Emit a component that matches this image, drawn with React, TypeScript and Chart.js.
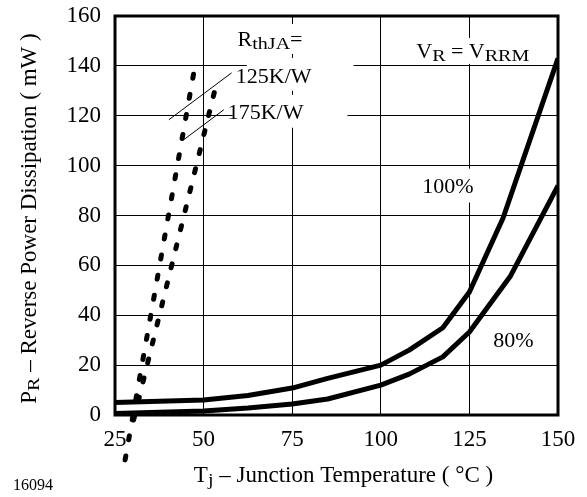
import React, { useEffect, useRef } from "react";
import { Chart, registerables } from "chart.js";

Chart.register(...registerables);

// ---- data ----
const xTickValues = [25, 50, 75, 100, 125, 150];
const yTickValues = [0, 20, 40, 60, 80, 100, 120, 140, 160];

const temps100 = [25, 50, 62.5, 75, 85, 100, 108, 117.5, 125, 134.5, 150];
const power100 = [5, 6, 7.8, 10.8, 14.7, 20, 26, 35, 49.3, 79, 143];

const temps80 = [25, 50, 62.5, 75, 85, 100, 108, 117.5, 125, 136.5, 150];
const power80 = [0.6, 1.6, 2.8, 4.4, 6.4, 12, 16.4, 23.3, 33.3, 55.5, 92];

const tempsR125 = [27.85, 47.2];
const powerR125 = [-18, 137];
const tempsR175 = [30.25, 54.0];
const powerR175 = [-2, 135];

// leader lines [T1, P1, T2, P2]
const leader125 = [40.2, 118.4, 57.9, 137.2];
const leader175 = [44.4, 110.4, 55.7, 122.4];

// white label masks [T1, T2, P1, P2]
const maskBoxes = [
  [58.0, 79.1, 156.8, 144.8],
  [62.2, 92.3, 143.2, 130.0],
  [58.2, 90.6, 128.4, 115.2],
  [108.3, 146.3, 151.2, 140.8],
  [109.7, 128.0, 98.8, 85.2],
];

type Seg = { t: string; sub?: boolean };
// annotation labels: [T, P, segments]
const annoLabels: [number, number, Seg[]][] = [
  [59.6, 148, [{ t: "R" }, { t: "thJA", sub: true }, { t: "=" }]],
  [59.1, 133.2, [{ t: "125K/W" }]],
  [56.8, 118.8, [{ t: "175K/W" }]],
  [110, 143.2, [{ t: "V" }, { t: "R", sub: true }, { t: " = V" }, { t: "RRM", sub: true }]],
  [111.7, 89.2, [{ t: "100%" }]],
  [131.7, 27.2, [{ t: "80%" }]],
];

const xTitle: Seg[] = [{ t: "T" }, { t: "j", sub: true }, { t: " \u2013 Junction Temperature ( \u00B0C )" }];
const yTitle: Seg[] = [{ t: "P" }, { t: "R", sub: true }, { t: " \u2013 Reverse Power Dissipation ( mW )" }];
const figureId = "16094";

const FAM = '"Liberation Serif", "Times New Roman", serif';
const LABEL = 22;
const AXIS = 23;
const SUB = 16;
const SUB_STRETCH = 1.25;
const SUB_DROP = 3;

function richWidth(ctx: CanvasRenderingContext2D, segs: Seg[], size: number) {
  let w = 0;
  for (const s of segs) {
    ctx.font = `${s.sub ? SUB : size}px ${FAM}`;
    w += ctx.measureText(s.t).width * (s.sub ? SUB_STRETCH : 1);
  }
  return w;
}
function drawRich(ctx: CanvasRenderingContext2D, segs: Seg[], x: number, y: number, size: number) {
  let cx = x;
  ctx.textAlign = "left";
  ctx.textBaseline = "alphabetic";
  for (const s of segs) {
    ctx.font = `${s.sub ? SUB : size}px ${FAM}`;
    const w = ctx.measureText(s.t).width;
    if (s.sub) {
      ctx.save();
      ctx.translate(cx, y + SUB_DROP);
      ctx.scale(SUB_STRETCH, 1);
      ctx.fillText(s.t, 0, 0);
      ctx.restore();
      cx += w * SUB_STRETCH;
    } else {
      ctx.fillText(s.t, cx, y);
      cx += w;
    }
  }
}

const annotPlugin = {
  id: "annot",
  afterDatasetsDraw(chart: any) {
    const { ctx, chartArea } = chart;
    const xs = chart.scales.x;
    const ys = chart.scales.y;
    ctx.save();
    // masks behind labels
    ctx.fillStyle = "#fff";
    for (const b of maskBoxes) {
      const x1 = xs.getPixelForValue(b[0]);
      const x2 = xs.getPixelForValue(b[1]);
      const y1 = ys.getPixelForValue(b[2]);
      const y2 = ys.getPixelForValue(b[3]);
      ctx.fillRect(Math.min(x1, x2), Math.min(y1, y2), Math.abs(x2 - x1), Math.abs(y2 - y1));
    }
    // frame
    ctx.strokeStyle = "#000";
    ctx.lineWidth = 3;
    ctx.strokeRect(chartArea.left, chartArea.top, chartArea.right - chartArea.left, chartArea.bottom - chartArea.top);
    // leaders
    ctx.lineWidth = 1;
    for (const l of [leader125, leader175]) {
      ctx.beginPath();
      ctx.moveTo(xs.getPixelForValue(l[0]), ys.getPixelForValue(l[1]));
      ctx.lineTo(xs.getPixelForValue(l[2]), ys.getPixelForValue(l[3]));
      ctx.stroke();
    }
    // labels
    ctx.fillStyle = "#000";
    for (const [t, p, segs] of annoLabels) {
      drawRich(ctx, segs, xs.getPixelForValue(t), ys.getPixelForValue(p), LABEL);
    }
    // x title
    const wx = richWidth(ctx, xTitle, AXIS);
    const cx = (chartArea.left + chartArea.right) / 2 + 7;
    drawRich(ctx, xTitle, cx - wx / 2, chartArea.bottom + 67, AXIS);
    // y title
    const wy = richWidth(ctx, yTitle, AXIS);
    ctx.save();
    ctx.translate(36, (chartArea.top + chartArea.bottom) / 2 + 3);
    ctx.rotate(-Math.PI / 2);
    drawRich(ctx, yTitle, -wy / 2, 0, AXIS);
    ctx.restore();
    // figure id
    ctx.font = `16px ${FAM}`;
    ctx.textAlign = "left";
    ctx.textBaseline = "alphabetic";
    ctx.fillText(figureId, 13, 490);
    ctx.restore();
  },
};

export default function App() {
  const ref = useRef<HTMLCanvasElement | null>(null);
  useEffect(() => {
    if (!ref.current) return;
    const toPts = (xs: number[], ys: number[]) => xs.map((v, i) => ({ x: v, y: ys[i] }));
    const chart = new Chart(ref.current, {
      type: "line",
      data: {
        datasets: [
          {
            label: "100%",
            data: toPts(temps100, power100),
            borderColor: "#000",
            borderWidth: 5,
            pointRadius: 0,
            tension: 0,
            borderJoinStyle: "round",
            fill: false,
          },
          {
            label: "80%",
            data: toPts(temps80, power80),
            borderColor: "#000",
            borderWidth: 5,
            pointRadius: 0,
            tension: 0,
            borderJoinStyle: "round",
            fill: false,
          },
          {
            label: "125K/W",
            data: toPts(tempsR125, powerR125),
            borderColor: "#000",
            borderWidth: 5,
            borderDash: [4, 16.4],
            borderCapStyle: "round",
            pointRadius: 0,
            clip: false,
            fill: false,
          },
          {
            label: "175K/W",
            data: toPts(tempsR175, powerR175),
            borderColor: "#000",
            borderWidth: 5,
            borderDash: [4, 15.6],
            borderCapStyle: "round",
            pointRadius: 0,
            clip: false,
            fill: false,
          },
        ],
      },
      options: {
        responsive: false,
        animation: false,
        events: [],
        layout: { padding: { top: 16, right: 29, left: 0, bottom: 0 } },
        plugins: { legend: { display: false }, tooltip: { enabled: false }, title: { display: false } },
        scales: {
          x: {
            type: "linear",
            min: 25,
            max: 150,
            afterBuildTicks: (s: any) => {
              s.ticks = xTickValues.map((v) => ({ value: v }));
            },
            afterFit: (s: any) => {
              s.height = 82;
              s.paddingLeft = 0;
              s.paddingRight = 0;
            },
            grid: { color: "#000", lineWidth: 1, drawTicks: false },
            border: { display: false },
            ticks: { color: "#000", padding: 11, maxRotation: 0, font: { family: FAM, size: AXIS } },
          },
          y: {
            type: "linear",
            min: 0,
            max: 160,
            afterBuildTicks: (s: any) => {
              s.ticks = yTickValues.map((v) => ({ value: v }));
            },
            afterFit: (s: any) => {
              s.width = 115;
              s.paddingTop = 0;
              s.paddingBottom = 0;
            },
            grid: { color: "#000", lineWidth: 1, drawTicks: false },
            border: { display: false },
            ticks: { color: "#000", padding: 14, font: { family: FAM, size: AXIS } },
          },
        },
      },
      plugins: [annotPlugin],
    } as any);
    return () => chart.destroy();
  }, []);
  return (
    <div style={{ position: "absolute", left: 0, top: 0, width: 587, height: 497, background: "#fff" }}>
      <canvas ref={ref} width={587} height={497} style={{ width: 587, height: 497, display: "block" }} />
    </div>
  );
}
